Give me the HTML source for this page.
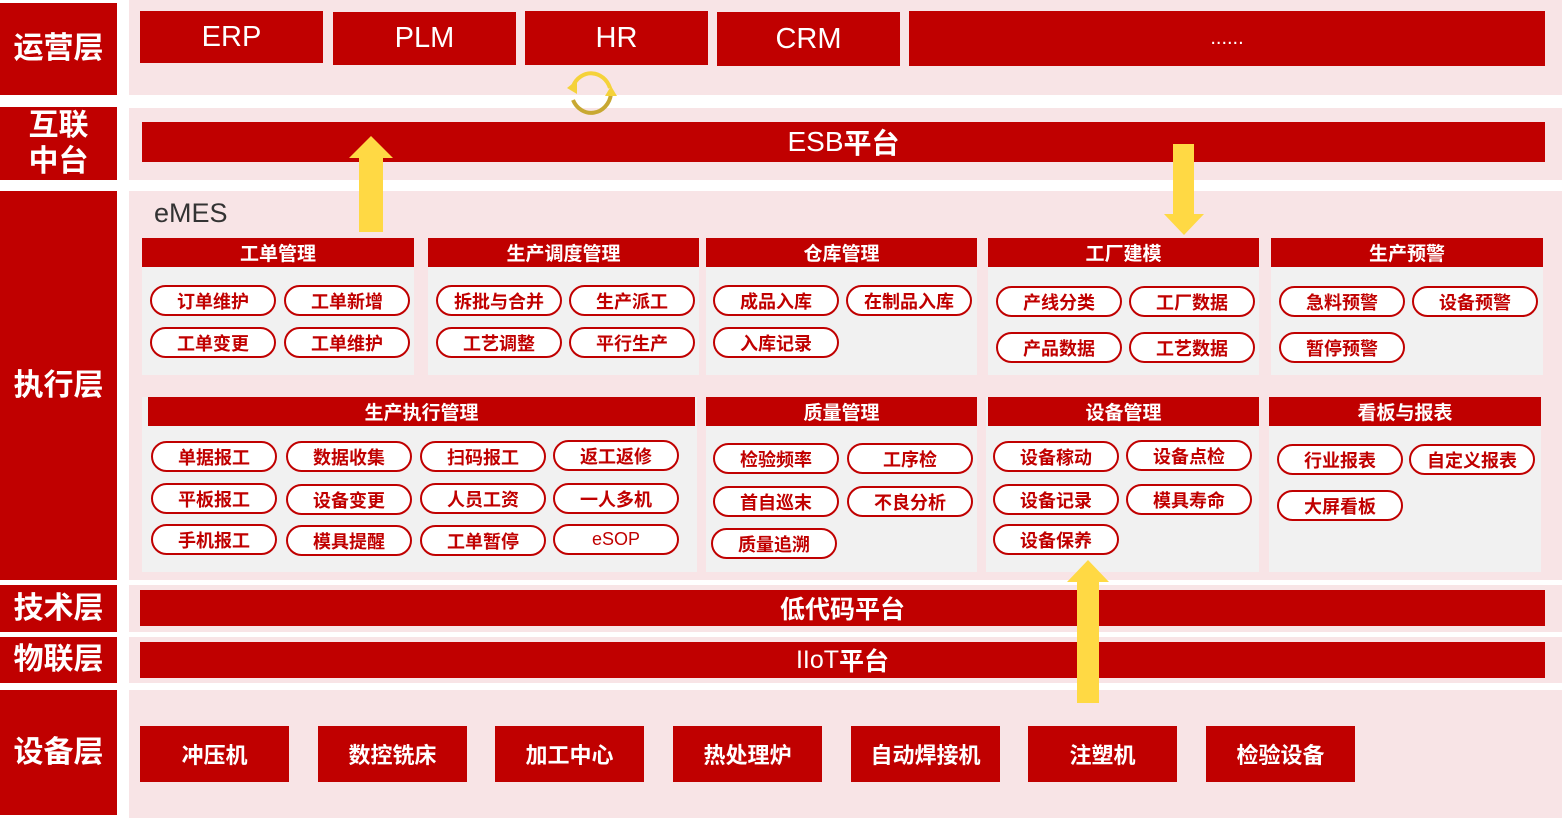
<!DOCTYPE html>
<html><head><meta charset="utf-8"><style>
*{margin:0;padding:0;box-sizing:border-box}
body{width:1562px;height:818px;position:relative;background:#fff;font-family:"Liberation Sans","Noto Sans CJK SC",sans-serif;overflow:hidden}
div{position:absolute}
.L{left:0;width:117px;background:#c00000;color:#fff;font-weight:bold;font-size:30px;display:flex;align-items:center;justify-content:center;text-align:center;line-height:36px}
.P{left:129px;width:1433px;background:#f8e4e6}
.R{background:#c00000;color:#fff;display:flex;align-items:center;justify-content:center}
.top{font-size:29px;font-weight:normal}
.g{background:#f1f1f1}
.h{background:#c00000;color:#fff;font-weight:bold;font-size:19px;display:flex;align-items:center;justify-content:center;height:29px}
.p{width:126px;height:31px;border:2px solid #c00000;border-radius:16px;background:#fff;color:#c00000;font-weight:bold;font-size:18px;display:flex;align-items:center;justify-content:center}
.d{top:726px;width:149px;height:56px;font-size:22px;font-weight:bold}
</style></head><body>
<div class="L" style="top:3px;height:92px">运营层</div>
<div class="L" style="top:107px;height:73px">互联<br>中台</div>
<div class="L" style="top:191px;height:389px">执行层</div>
<div class="L" style="top:585px;height:47px">技术层</div>
<div class="L" style="top:637px;height:46px">物联层</div>
<div class="L" style="top:690px;height:125px">设备层</div>
<div class="P" style="top:0;height:95px"></div>
<div class="P" style="top:108px;height:72px"></div>
<div class="P" style="top:191px;height:389px"></div>
<div class="P" style="top:585px;height:47px"></div>
<div class="P" style="top:637px;height:46px"></div>
<div class="P" style="top:690px;height:128px"></div>

<div class="R top" style="left:140px;top:11px;width:183px;height:52px">ERP</div>
<div class="R top" style="left:333px;top:12px;width:183px;height:53px">PLM</div>
<div class="R top" style="left:525px;top:11px;width:183px;height:54px">HR</div>
<div class="R top" style="left:717px;top:12px;width:183px;height:54px">CRM</div>
<div class="R top" style="left:909px;top:11px;width:636px;height:55px;font-size:20px">......</div>
<svg style="position:absolute;left:555px;top:66px" width="66" height="56"><path d="M18 20 A20 22 0 0 1 55 22" fill="none" stroke="#f5d23a" stroke-width="4"/><path d="M56 28 A20 22 0 0 1 18 34" fill="none" stroke="#c8a832" stroke-width="4"/><polygon points="12,22 22,14 22,28" fill="#f5d23a"/><polygon points="50,30 62,30 56,20" fill="#f5d23a"/></svg>

<div class="R" style="left:142px;top:122px;width:1403px;height:40px;font-size:28px">ESB<b>平台</b></div>
<div style="left:154px;top:198px;font-size:27px;color:#333">eMES</div>
<svg style="position:absolute;left:348px;top:136px" width="46" height="96"><polygon points="23,0 45,22 35,22 35,96 11,96 11,22 1,22" fill="#ffd944"/></svg>
<svg style="position:absolute;left:1162px;top:144px" width="44" height="92"><polygon points="11,0 32,0 32,70 42,70 22,91 2,70 11,70" fill="#ffd944"/></svg>

<div class="g" style="left:142px;top:238px;width:272px;height:137px"></div><div class="h" style="left:142px;top:238px;width:272px">工单管理</div>
<div class="g" style="left:428px;top:238px;width:271px;height:137px"></div><div class="h" style="left:428px;top:238px;width:271px">生产调度管理</div>
<div class="g" style="left:706px;top:238px;width:271px;height:137px"></div><div class="h" style="left:706px;top:238px;width:271px">仓库管理</div>
<div class="g" style="left:988px;top:238px;width:271px;height:137px"></div><div class="h" style="left:988px;top:238px;width:271px">工厂建模</div>
<div class="g" style="left:1271px;top:238px;width:272px;height:137px"></div><div class="h" style="left:1271px;top:238px;width:272px">生产预警</div>

<div class="p" style="left:150px;top:285px">订单维护</div><div class="p" style="left:284px;top:285px">工单新增</div>
<div class="p" style="left:150px;top:327px">工单变更</div><div class="p" style="left:284px;top:327px">工单维护</div>
<div class="p" style="left:436px;top:285px">拆批与合并</div><div class="p" style="left:569px;top:285px">生产派工</div>
<div class="p" style="left:436px;top:327px">工艺调整</div><div class="p" style="left:569px;top:327px">平行生产</div>
<div class="p" style="left:713px;top:285px">成品入库</div><div class="p" style="left:846px;top:285px">在制品入库</div>
<div class="p" style="left:713px;top:327px">入库记录</div>
<div class="p" style="left:996px;top:286px">产线分类</div><div class="p" style="left:1129px;top:286px">工厂数据</div>
<div class="p" style="left:996px;top:332px">产品数据</div><div class="p" style="left:1129px;top:332px">工艺数据</div>
<div class="p" style="left:1279px;top:286px">急料预警</div><div class="p" style="left:1412px;top:286px">设备预警</div>
<div class="p" style="left:1279px;top:332px">暂停预警</div>

<div class="g" style="left:142px;top:397px;width:555px;height:175px"></div><div class="h" style="left:148px;top:397px;width:547px">生产执行管理</div>
<div class="g" style="left:706px;top:397px;width:271px;height:175px"></div><div class="h" style="left:706px;top:397px;width:271px">质量管理</div>
<div class="g" style="left:986px;top:397px;width:273px;height:175px"></div><div class="h" style="left:988px;top:397px;width:271px">设备管理</div>
<div class="g" style="left:1269px;top:397px;width:272px;height:175px"></div><div class="h" style="left:1269px;top:397px;width:272px">看板与报表</div>

<div class="p" style="left:151px;top:441px">单据报工</div><div class="p" style="left:286px;top:441px">数据收集</div><div class="p" style="left:420px;top:441px">扫码报工</div><div class="p" style="left:553px;top:440px">返工返修</div>
<div class="p" style="left:151px;top:483px">平板报工</div><div class="p" style="left:286px;top:484px">设备变更</div><div class="p" style="left:420px;top:483px">人员工资</div><div class="p" style="left:553px;top:483px">一人多机</div>
<div class="p" style="left:151px;top:524px">手机报工</div><div class="p" style="left:286px;top:525px">模具提醒</div><div class="p" style="left:420px;top:525px">工单暂停</div><div class="p" style="left:553px;top:524px;font-weight:normal">eSOP</div>
<div class="p" style="left:713px;top:443px">检验频率</div><div class="p" style="left:847px;top:443px">工序检</div>
<div class="p" style="left:713px;top:486px">首自巡末</div><div class="p" style="left:847px;top:486px">不良分析</div>
<div class="p" style="left:711px;top:528px">质量追溯</div>
<div class="p" style="left:993px;top:441px">设备稼动</div><div class="p" style="left:1126px;top:440px">设备点检</div>
<div class="p" style="left:993px;top:484px">设备记录</div><div class="p" style="left:1126px;top:484px">模具寿命</div>
<div class="p" style="left:993px;top:524px">设备保养</div>
<div class="p" style="left:1277px;top:444px">行业报表</div><div class="p" style="left:1409px;top:444px">自定义报表</div>
<div class="p" style="left:1277px;top:490px">大屏看板</div>

<div class="R" style="left:140px;top:590px;width:1405px;height:36px;font-size:25px;font-weight:bold">低代码平台</div>
<div class="R" style="left:140px;top:642px;width:1405px;height:36px;font-size:25px">IIoT<b>平台</b></div>
<svg style="position:absolute;left:1066px;top:560px" width="44" height="143"><polygon points="22,0 43,22 33,22 33,143 11,143 11,22 1,22" fill="#ffd944"/></svg>

<div class="R d" style="left:140px">冲压机</div>
<div class="R d" style="left:318px">数控铣床</div>
<div class="R d" style="left:495px">加工中心</div>
<div class="R d" style="left:673px">热处理炉</div>
<div class="R d" style="left:851px">自动焊接机</div>
<div class="R d" style="left:1028px">注塑机</div>
<div class="R d" style="left:1206px">检验设备</div>
</body></html>
